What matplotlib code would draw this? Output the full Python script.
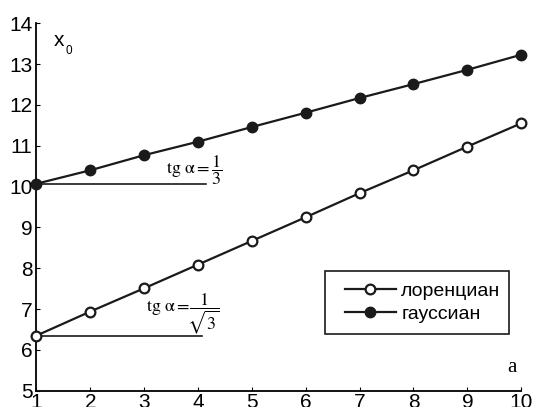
import numpy as np
from matplotlib import pyplot as plt
from matplotlib.patches import Rectangle

# data
a = [1, 2, 3, 4, 5, 6, 7, 8, 9, 10]
x0_lorentz = [6.35, 6.94, 7.51, 8.09, 8.67, 9.25, 9.84, 10.40, 10.98, 11.55]
x0_gauss = [10.07, 10.40, 10.77, 11.10, 11.46, 11.81, 12.17, 12.51, 12.86, 13.23]
labels = ['лоренциан', 'гауссиан']
xticks = [1, 2, 3, 4, 5, 6, 7, 8, 9, 10]
yticks = [5, 6, 7, 8, 9, 10, 11, 12, 13, 14]

plt.rcParams['font.family'] = ['Liberation Sans', 'DejaVu Sans']
plt.rcParams['mathtext.fontset'] = 'stix'

fig = plt.figure(figsize=(5.38, 4.07), dpi=100)
ax = fig.add_axes([0.0678, 0.040, 0.901, 0.9028])

ax.plot(a, x0_lorentz, '-o', color='#1a1a1a', lw=1.6, ms=7,
        mfc='white', mec='#1a1a1a', mew=1.6, label=labels[0], clip_on=False, zorder=3)
ax.plot(a, x0_gauss, '-o', color='#1a1a1a', lw=1.6, ms=7.5,
        mfc='#1a1a1a', mec='#1a1a1a', label=labels[1], clip_on=False, zorder=3)

# horizontal reference lines for the slope annotations
ax.plot([a[0], 4.15], [x0_gauss[0]] * 2, color='#1a1a1a', lw=1.2)
ax.plot([a[0], 4.08], [x0_lorentz[0]] * 2, color='#1a1a1a', lw=1.2)

ax.text(3.41, 10.41, r'$\mathrm{tg}\ \mathrm{\alpha}=\dfrac{1}{3}$', fontsize=13,
        va='center', ha='left')
ax.text(3.04, 6.86, r'$\mathrm{tg}\ \mathrm{\alpha}=\!\dfrac{1}{\!\sqrt{3}}$', fontsize=13,
        va='center', ha='left')

ax.text(1.33, 13.45, 'x', fontsize=15, ha='left', va='baseline')
ax.text(1.53, 13.25, '0', fontsize=8.5, ha='left', va='baseline')
ax.text(9.82, 5.45, 'a', fontsize=15, family='Liberation Serif', ha='center', va='baseline')

ax.set_xlim(1, 10)
ax.set_ylim(5, 14)
ax.set_xticks(xticks)
ax.set_yticks(yticks)
ax.tick_params(direction='in', length=3, width=0.8, labelsize=15)
ax.tick_params(axis='y', pad=3)
ax.tick_params(axis='x', pad=2)

for s in ['top', 'right']:
    ax.spines[s].set_visible(False)
for s in ['left', 'bottom']:
    ax.spines[s].set_linewidth(1.3)

leg = ax.legend(loc='center', bbox_to_anchor=(0.797, 0.240), fontsize=14,
                frameon=False, borderpad=0, borderaxespad=0,
                handlelength=2.6, labelspacing=0.3, handletextpad=0.3)

# legend frame (wider on the left like the original)
ax.add_patch(Rectangle((0.595, 0.154), 0.379, 0.172, transform=ax.transAxes,
                       fill=False, edgecolor='#1a1a1a', lw=1.2, zorder=4))

fig.savefig('out.png', dpi=100)
